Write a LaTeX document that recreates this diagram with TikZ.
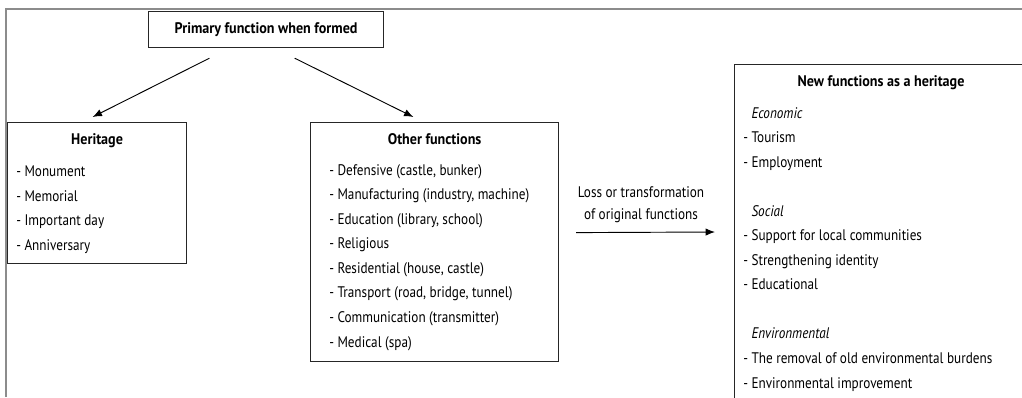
\documentclass[tikz,border=0pt]{standalone}
\usepackage{fontspec}
\setmainfont{PT Sans}[FakeStretch=0.86,BoldFeatures={FakeStretch=0.92}]
\usetikzlibrary{arrows.meta,calc}
\tikzset{
  frame/.style={draw=black!45,line width=1.5pt},
  box/.style={draw=black!85,line width=0.9pt,anchor=north west,inner sep=0pt},
  title/.style={font=\fontsize{11.5}{18.4}\selectfont\bfseries,inner sep=0pt,anchor=base},
  list/.style={align=left,inner sep=0pt,anchor=base west},
  arr/.style={-{Latex[length=7pt,width=5.5pt]},line width=0.7pt},
}
\begin{document}
\begin{tikzpicture}[x=0.75pt,y=-0.75pt,font=\fontsize{11.5}{18.4}\selectfont]
    \useasboundingbox (0,0) rectangle (1022,397);
    % outer frame
    \draw[frame] (6,397) -- (6,9) -- (1022,9);
    % boxes
    \node[box,minimum width=176.25pt,minimum height=27pt,font=\fontsize{11.5}{18.4}\selectfont\bfseries] (pri) at (148,11) {Primary function when formed};
    \node[box,minimum width=134.25pt,minimum height=105.75pt] (her) at (7,122) {};
    \node[box,minimum width=186pt,minimum height=179.25pt] (oth) at (310,122) {};
    \node[box,minimum width=222pt,minimum height=255.75pt] (newf) at (734,64) {};
    % titles
    \node[title] (hertitle) at ($(her.north west)!0.5!(her.north east)+(0,22)$) {Heritage};
    \node[title] (othtitle) at ($(oth.north west)!0.5!(oth.north east)+(0,22)$) {Other functions};
    \node[title] (newtitle) at (881,86) {New functions as a heritage};
    % lists (base = last line)
    \node[list] (herlist) at ($(her.north west)+(9,128.5)$) {- Monument\\- Memorial\\- Important day\\- Anniversary};
    \node[list] (othlist) at ($(oth.north west)+(19,225)$) {- Defensive (castle, bunker)\\- Manufacturing (industry, machine)\\- Education (library, school)\\- Religious\\- Residential (house, castle)\\- Transport (road, bridge, tunnel)\\- Communication (transmitter)\\- Medical (spa)};
    \node[list] (newlist) at ($(newf.north west)+(9,324)$) {\hphantom{- }\textit{Economic}\\- Tourism\\- Employment\\[18.4pt]\hphantom{- }\textit{Social}\\- Support for local communities\\- Strengthening identity\\- Educational\\[18.4pt]\hphantom{- }\textit{Environmental}\\- The removal of old environmental burdens\\- Environmental improvement};
    % middle label
    \node[align=center,anchor=base,inner sep=0pt,font=\fontsize{11.5}{16}\selectfont] (loss) at (641,219) {Loss or transformation\\of original functions};
    % arrows
    \draw[arr] ($(pri.south west)!0.26!(pri.south east)+(0,10)$) -- ($(her.north west)!0.475!(her.north east)+(0,-5)$);
    \draw[arr] ($(pri.south west)!0.621!(pri.south east)+(0,10)$) -- ($(oth.north west)!0.415!(oth.north east)+(0,-5)$);
    \draw[arr] ($(oth.east)+(17,-9.5)$) -- ($(newf.north west)+(-19,168)$);
\end{tikzpicture}
\end{document}
